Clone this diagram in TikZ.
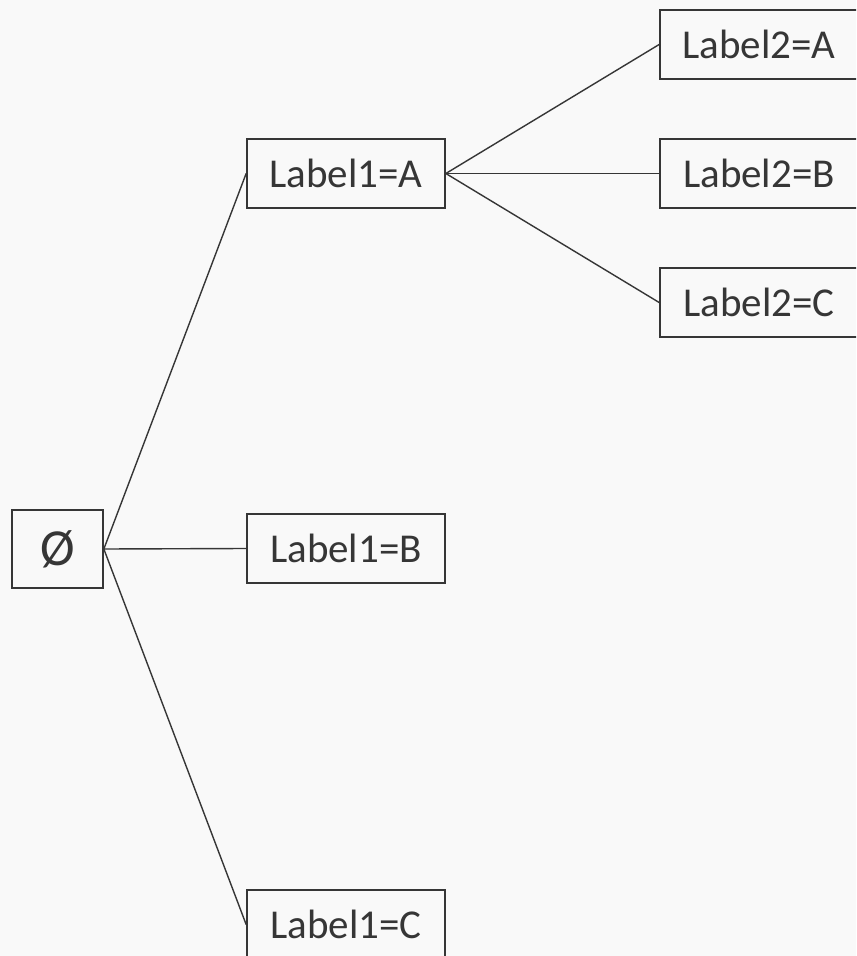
\documentclass[tikz,border=0pt]{standalone}
\usepackage{fontspec}
\setmainfont{Carlito}
\definecolor{inkgray}{HTML}{363636}
\definecolor{paper}{HTML}{F9F9F9}

\begin{document}
\begin{tikzpicture}[x=0.5pt,y=0.5pt,yscale=-1,xscale=1,
  lbl/.style={draw=inkgray,line width=0.85pt,text=inkgray,inner sep=0pt,minimum width=99pt,minimum height=34.5pt,font=\fontsize{20.5}{24}\selectfont},
  rootbox/.style={lbl,minimum width=45.5pt,minimum height=39pt,font=\fontsize{26}{30}\selectfont},
  edge/.style={draw=inkgray,line width=0.7pt}]
%set diagram area 856 x 956
\fill[paper] (0,0) rectangle (856,956);
\useasboundingbox (0,0) rectangle (856,956);
\clip (0,0) rectangle (856,956);

% Root
\node [rootbox] (root) at (57.5,549) {Ø};
% First level
\node [lbl] (l1a) at (346,173.5) {Label1=A};
\node [lbl] (l1b) at (346,548.5) {Label1=B};
\node [lbl] (l1c) at (346,924.5) {Label1=C};
% Second level
\node [lbl] (l2a) at (759,44.5) {Label2=A};
\node [lbl] (l2b) at (759,173.5) {Label2=B};
\node [lbl] (l2c) at (759,302.5) {Label2=C};

%Straight Lines
\draw [edge] (root.east) -- (l1a.west);
\draw [edge] (root.east) -- (l1b.west);
\draw [edge] (root.east) -- (l1c.west);
\draw [edge] (l1a.east) -- (l2a.west);
\draw [edge] (l1a.east) -- (l2b.west);
\draw [edge] (l1a.east) -- (l2c.west);

\end{tikzpicture}
\end{document}
